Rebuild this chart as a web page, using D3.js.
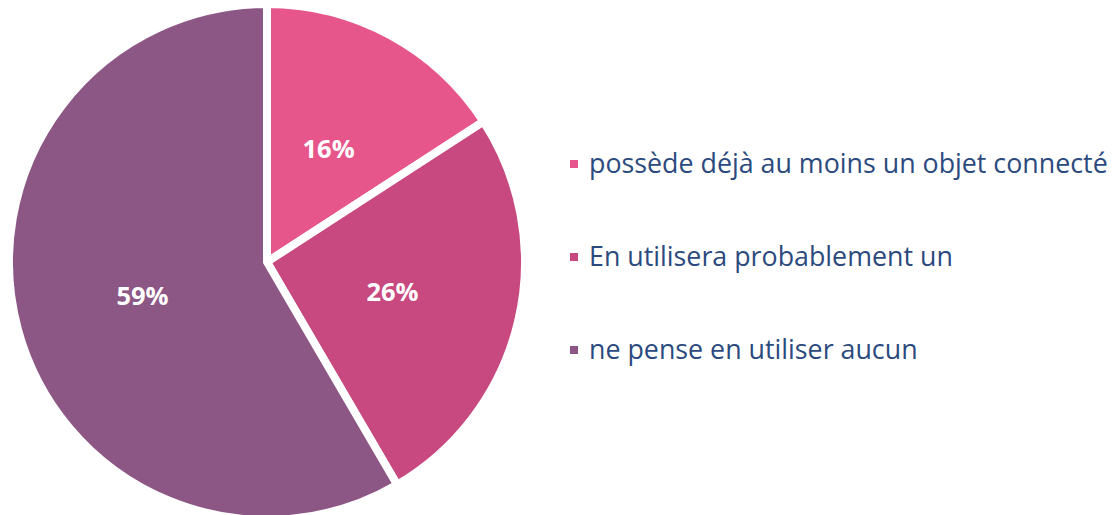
<!DOCTYPE html>
<html>
<head>
<meta charset="utf-8">
<script src="https://cdn.jsdelivr.net/npm/d3@7"></script>
<style>
  body { margin: 0; background: #fff; }
  text { font-family: "Open Sans", sans-serif; }
</style>
</head>
<body>
<svg id="chart"></svg>
<script>
var width = 1113;
var height = 515;

var categories = ['possède déjà au moins un objet connecté', 'En utilisera probablement un', 'ne pense en utiliser aucun'];
var values = [16, 26, 59];
var colors = ['#e7568a', '#c84880', '#8c5785'];

var cx = 267, cy = 262, radius = 258;

var svg = d3.select('#chart').attr('width', width).attr('height', height);
var g = svg.append('g').attr('transform', 'translate(' + cx + ',' + cy + ')');

var pie = d3.pie().sort(null).value(function(d) { return d; });
var arc = d3.arc().innerRadius(0).outerRadius(radius);
var labelArc = d3.arc().innerRadius(radius * 0.5).outerRadius(radius * 0.5);

var arcs = pie(values);

g.selectAll('.slice').data(arcs).enter()
  .append('path')
  .classed('slice', true)
  .attr('d', arc)
  .style('fill', function(d, i) { return colors[i]; })
  .style('stroke', '#fff')
  .style('stroke-width', 8)
  .style('stroke-linejoin', 'miter');

g.selectAll('.pct').data(arcs).enter()
  .append('text')
  .classed('pct', true)
  .attr('transform', function(d) { return 'translate(' + labelArc.centroid(d) + ')'; })
  .attr('text-anchor', 'middle')
  .attr('dy', '0.35em')
  .style('fill', '#fff')
  .style('font-weight', 700)
  .style('font-size', '25.5px')
  .text(function(d) { return d.data + '%'; });

var legend = svg.append('g').attr('transform', 'translate(570,0)');
var rowY = d3.scalePoint().domain(categories).range([164, 350]);

var rows = legend.selectAll('.row').data(categories).enter()
  .append('g')
  .classed('row', true)
  .attr('transform', function(d) { return 'translate(0,' + rowY(d) + ')'; });

rows.append('rect')
  .attr('x', 0).attr('y', -4)
  .attr('width', 8).attr('height', 8)
  .style('fill', function(d, i) { return colors[i]; });

rows.append('text')
  .attr('x', 19)
  .attr('dy', '0.35em')
  .style('fill', '#2b4a7e')
  .style('font-size', '26.8px')
  .text(function(d) { return d; });
</script>
</body>
</html>
